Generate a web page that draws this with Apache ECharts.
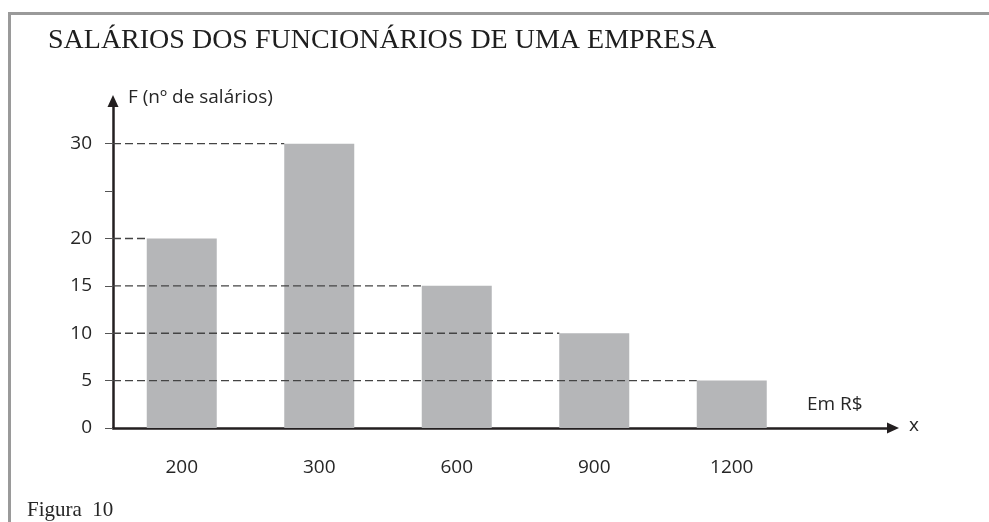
<!DOCTYPE html>
<html>
<head>
<meta charset="utf-8">
<script src="https://cdn.jsdelivr.net/npm/echarts@6/dist/echarts.min.js"></script>
<style>
  html, body { margin: 0; padding: 0; background: #fff; }
  #chart { width: 989px; height: 522px; }
</style>
</head>
<body>
<div id="chart"></div>
<script>
// Salary classes (R$) and number of salaries in each class
const categories = ['200', '300', '600', '900', '1200'];
const salaryCounts = [20, 30, 15, 10, 5];
// Y axis ticks (25 has a tick but no label)
const yTickValues = [0, 5, 10, 15, 20, 25, 30];
const yLabelValues = [0, 5, 10, 15, 20, 30];

const Y_MAX = 34.5;          // room above 30 for the arrow head
const BAR_WIDTH = 70;
const AXIS_COLOR = '#231f20';
const TEXT_COLOR = '#262626';
const SANS = '"Open Sans", "Noto Sans", sans-serif';
const SERIF = '"Liberation Serif", "DejaVu Serif", serif';
const LABEL_SIZE = 19;

const chart = echarts.init(document.getElementById('chart'), null, { renderer: 'canvas' });

const option = {
  backgroundColor: '#ffffff',
  animation: false,
  grid: [
    // bars
    { left: 113, right: 188.5, top: 101, bottom: 94 },
    // axes with arrows
    { left: 113, right: 96, top: 101, bottom: 94 }
  ],
  xAxis: [
    {
      type: 'category',
      gridIndex: 0,
      data: categories,
      axisLine: { show: false },
      axisTick: { show: false },
      axisLabel: { margin: 30, fontFamily: SANS, fontSize: LABEL_SIZE, color: TEXT_COLOR },
      splitLine: { show: false }
    },
    {
      type: 'value',
      gridIndex: 1,
      min: 0, max: 1,
      axisLine: {
        show: true,
        lineStyle: { color: AXIS_COLOR, width: 2.5 },
        symbol: ['none', 'triangle'],
        symbolSize: [11, 12]
      },
      axisTick: { show: false },
      axisLabel: { show: false },
      splitLine: { show: false }
    }
  ],
  yAxis: [
    {
      type: 'value',
      gridIndex: 0,
      min: 0, max: Y_MAX,
      show: false,
      splitLine: { show: false }
    },
    {
      type: 'value',
      gridIndex: 1,
      min: 0, max: Y_MAX,
      interval: 5,
      axisLine: {
        show: true,
        lineStyle: { color: AXIS_COLOR, width: 2.5 },
        symbol: ['none', 'triangle'],
        symbolSize: [11, 12]
      },
      axisTick: {
        show: true,
        inside: false,
        length: 8,
        customValues: yTickValues,
        lineStyle: { color: '#555', width: 1 }
      },
      axisLabel: {
        margin: 21,
        customValues: yLabelValues,
        fontFamily: SANS, fontSize: LABEL_SIZE, color: TEXT_COLOR
      },
      splitLine: { show: false }
    }
  ],
  series: [
    {
      type: 'bar',
      xAxisIndex: 0,
      yAxisIndex: 0,
      data: salaryCounts,
      barWidth: BAR_WIDTH,
      itemStyle: { color: '#b5b6b8' },
      z: 2
    },
    {
      // dashed leaders from the F axis to the top-left corner of each bar
      type: 'custom',
      xAxisIndex: 0,
      yAxisIndex: 0,
      data: categories.map((c, i) => [i, salaryCounts[i]]),
      z: 3,
      renderItem(params, api) {
        const top = api.coord([api.value(0), api.value(1)]);
        const x0 = params.coordSys.x;
        const x1 = top[0] - BAR_WIDTH / 2;
        return {
          type: 'line',
          shape: { x1: x0, y1: top[1], x2: x1, y2: top[1] },
          style: { stroke: '#444444', lineWidth: 1.4, lineDash: [8, 4] }
        };
      }
    }
  ],
  graphic: [
    // frame
    { type: 'line', shape: { x1: 8, y1: 13.5, x2: 989, y2: 13.5 }, style: { stroke: '#9a9a9a', lineWidth: 3 }, silent: true },
    { type: 'line', shape: { x1: 9.5, y1: 12, x2: 9.5, y2: 522 }, style: { stroke: '#9a9a9a', lineWidth: 3 }, silent: true },
    {
      type: 'text', left: 48, top: 27,
      style: { text: 'SALÁRIOS DOS FUNCIONÁRIOS DE UMA EMPRESA', font: '28px ' + SERIF, fill: '#1e1e1e' }
    },
    {
      type: 'text', left: 128, top: 88,
      style: { text: 'F (nº de salários)', font: LABEL_SIZE + 'px ' + SANS, fill: TEXT_COLOR }
    },
    {
      type: 'text', left: 807, top: 395,
      style: { text: 'Em R$', font: LABEL_SIZE + 'px ' + SANS, fill: TEXT_COLOR }
    },
    {
      type: 'text', left: 909, top: 416,
      style: { text: 'x', font: LABEL_SIZE + 'px ' + SANS, fill: TEXT_COLOR }
    },
    {
      type: 'text', left: 27, top: 500,
      style: { text: 'Figura  10', font: '21px ' + SERIF, fill: '#262626' }
    }
  ]
};

chart.setOption(option);
</script>
</body>
</html>
